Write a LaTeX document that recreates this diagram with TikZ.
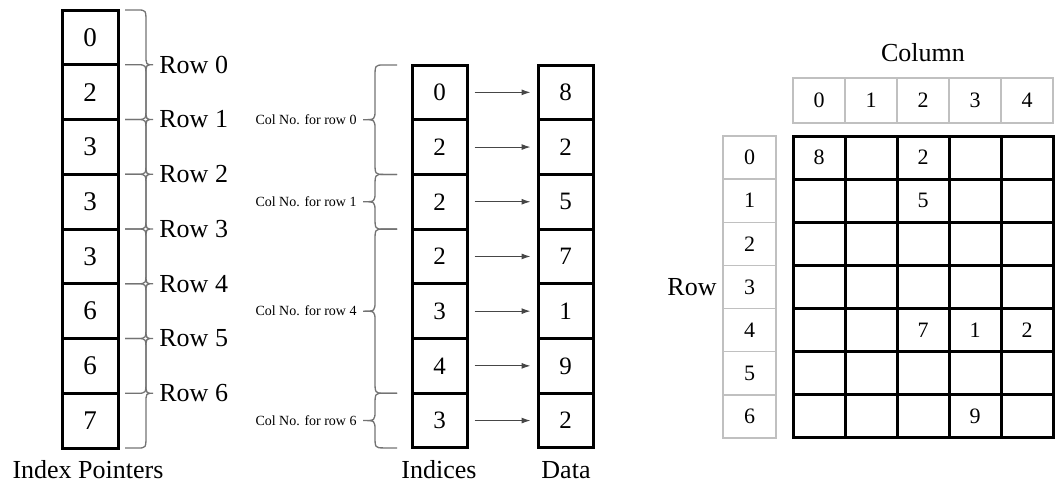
\documentclass[tikz,border=0pt]{standalone}
\usepackage{fontspec}
\setmainfont{Liberation Serif}
\usetikzlibrary{arrows.meta}

\definecolor{lightgrid}{RGB}{192,192,192}
\definecolor{bracegray}{RGB}{115,115,115}
\definecolor{arrowgray}{RGB}{70,70,70}

% curly brace: #1 end x, #2 spine x, #3 tip x, #4 top y, #5 bottom y
\newcommand{\curly}[5]{%
  \pgfmathsetmacro\ymid{(#4+#5)/2}%
  \pgfmathsetmacro\xend{#2+0.4*(#1-#2)}%
  \draw[brace line] (#1,#4) -- (\xend,#4) .. controls (#2,#4) .. (#2,{#4+13})
    -- (#2,{\ymid-10}) .. controls (#2,\ymid) .. (#3,\ymid)
    .. controls (#2,\ymid) .. (#2,{\ymid+10})
    -- (#2,{#5-13}) .. controls (#2,#5) .. (\xend,#5) -- (#1,#5);}

\begin{document}
\begin{tikzpicture}[x=0.5pt, y=-0.5pt,
  ptrcell/.style={draw, line width=1.5pt, minimum width=28pt, minimum height=27.4pt, inner sep=0pt, font=\fontsize{13.5}{16}\selectfont},
  arrcell/.style={draw, line width=1.5pt, minimum width=27.5pt, minimum height=27.35pt, inner sep=0pt, font=\fontsize{12.5}{15}\selectfont},
  hdrcell/.style={draw=lightgrid, line width=0.75pt, minimum width=26pt, minimum height=22.5pt, inner sep=0pt, font=\fontsize{11}{13}\selectfont},
  idxcell/.style={hdrcell, minimum width=26.5pt, minimum height=21.57pt},
  matcell/.style={draw, line width=1.5pt, minimum width=26pt, minimum height=21.57pt, inner sep=0pt},
  lbl/.style={font=\fontsize{13}{15}\selectfont, inner sep=0pt},
  collbl/.style={font=\fontsize{7}{8}\selectfont, inner sep=0pt, anchor=east},
  brace line/.style={line width=0.65pt, draw=bracegray},
  ptr arrow/.style={-{Latex[length=4.5pt,width=3pt]}, line width=0.5pt, draw=arrowgray, shorten <=3pt, shorten >=3pt}]
  \useasboundingbox (0,0) rectangle (1055,488);

  % index pointers
  \foreach \v [count=\i from 0] in {0,2,3,3,3,6,6,7}
    \node[ptrcell] (ptr\i) at (90,{37.4+54.75*\i}) {\v};
  \foreach \i in {0,...,6} {
    \pgfmathsetmacro\ytop{10+54.75*\i}
    \pgfmathsetmacro\ybot{10+54.75*(\i+2)}
    \curly{125}{146}{153}{\ytop}{\ybot}
    \node[lbl, anchor=west] (row\i) at (159,{10+54.75*(\i+1)}) {Row \i};
  }
  \node[lbl] (ptrlbl) at (88,470) {Index Pointers};

  % column indices and data
  \foreach \c/\d [count=\i from 0] in {0/8,2/2,2/5,2/7,3/1,4/9,3/2} {
    \node[arrcell] (ind\i) at (439.5,{92.35+54.7*\i}) {\c};
    \node[arrcell] (dat\i) at (565.5,{92.35+54.7*\i}) {\d};
    \draw[ptr arrow] (ind\i.east) -- (dat\i.west);
  }
  \foreach \yt/\yb/\r in {65/174.4/0, 174.4/229.1/1, 229.1/393.2/4, 393.2/447.9/6} {
    \curly{397}{375}{363}{\yt}{\yb}
    \node[collbl] (col\r) at (357,{(\yt+\yb)/2}) {Col No. for row \r};
  }
  \node[lbl] (indlbl) at (439,470) {Indices};
  \node[lbl] (datlbl) at (566,470) {Data};

  % dense matrix
  \node[lbl] (colttl) at (923,53) {Column};
  \node[lbl, anchor=east] (rowttl) at (717,287) {Row};
  \foreach \c in {0,...,4}
    \node[hdrcell] (hdr\c) at ({819+52*\c},100.5) {\c};
  \foreach \r in {0,...,6} {
    \node[idxcell] (idx\r) at (749.5,{157.57+43.14*\r}) {\r};
    \foreach \c in {0,...,4}
      \node[matcell] (m\r\c) at ({819+52*\c},{157.57+43.14*\r}) {};
  }
  \foreach \r/\c/\v in {0/0/8, 0/2/2, 1/2/5, 4/2/7, 4/3/1, 4/4/2, 6/3/9}
    \node[font=\fontsize{11}{13}\selectfont] at (m\r\c) {\v};
\end{tikzpicture}
\end{document}
